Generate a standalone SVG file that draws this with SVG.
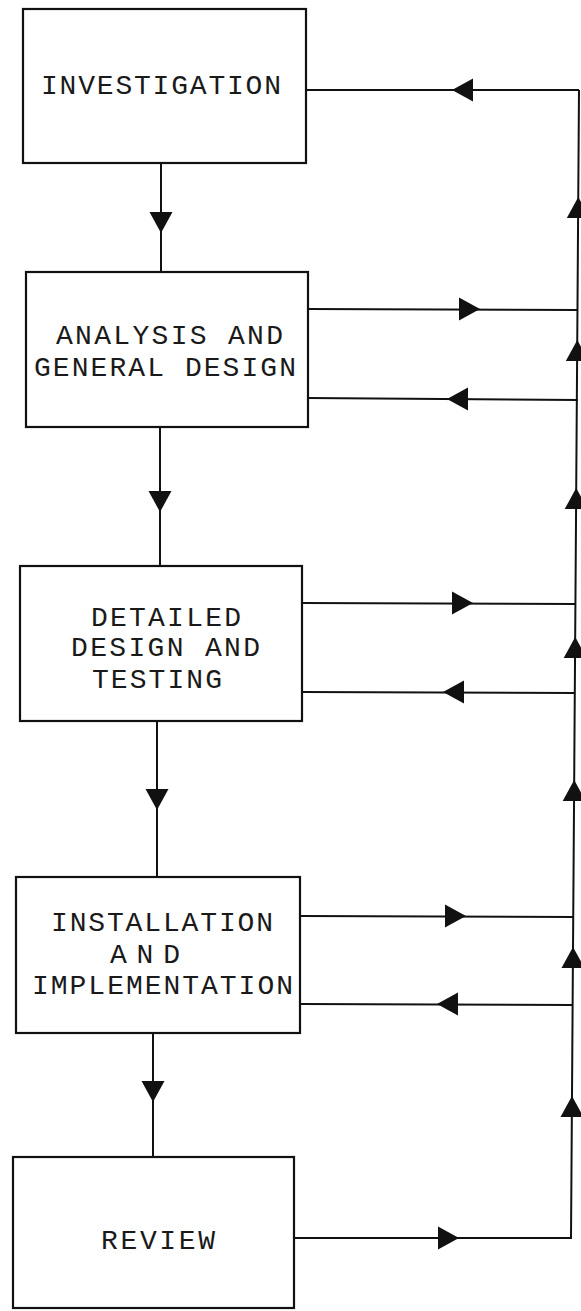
<svg xmlns="http://www.w3.org/2000/svg" xmlns:xlink="http://www.w3.org/1999/xlink" width="581" height="1311" viewBox="0 0 581 1311">
<style>
.box{fill:none;stroke:#111;stroke-width:2.2}
.ln{fill:none;stroke:#111;stroke-width:2}
.lbl{font-family:"Liberation Mono","Courier New",monospace;font-size:28px;fill:#1a1a1a}
.ah{fill:#111}
</style>
<defs>
<path id="ah" d="M0,0 L-21,-11.5 L-21,11.5 Z"/>
</defs>
<rect width="581" height="1311" fill="#fff"/>

<g id="n-investigation">
<rect class="box" x="23" y="9" width="283" height="154"/>
<text class="lbl" x="41" y="94" textLength="240" lengthAdjust="spacing">INVESTIGATION</text>
</g>
<g id="n-analysis">
<rect class="box" x="26" y="272" width="282" height="155"/>
<text class="lbl" x="56" y="344" textLength="227" lengthAdjust="spacing">ANALYSIS AND</text>
<text class="lbl" x="34" y="376" textLength="262" lengthAdjust="spacing">GENERAL DESIGN</text>
</g>
<g id="n-detailed">
<rect class="box" x="20" y="566" width="282" height="155"/>
<text class="lbl" x="91" y="626" textLength="150" lengthAdjust="spacing">DETAILED</text>
<text class="lbl" x="71" y="656" textLength="189" lengthAdjust="spacing">DESIGN AND</text>
<text class="lbl" x="92" y="688" textLength="130" lengthAdjust="spacing">TESTING</text>
</g>
<g id="n-installation">
<rect class="box" x="16" y="877" width="284" height="156"/>
<text class="lbl" x="51" y="931" textLength="222" lengthAdjust="spacing">INSTALLATION</text>
<text class="lbl" x="110" y="963" textLength="70" lengthAdjust="spacing">AND</text>
<text class="lbl" x="32" y="994" textLength="261" lengthAdjust="spacing">IMPLEMENTATION</text>
</g>
<g id="n-review">
<rect class="box" x="13" y="1157" width="281" height="151"/>
<text class="lbl" x="101" y="1249" textLength="114" lengthAdjust="spacing">REVIEW</text>
</g>

<g id="connectors">
<line class="ln" x1="161" y1="163" x2="161" y2="272"/>
<use href="#ah" class="ah" transform="translate(161,233) rotate(90)"/>
<line class="ln" x1="160" y1="427" x2="160" y2="566"/>
<use href="#ah" class="ah" transform="translate(160,512) rotate(90)"/>
<line class="ln" x1="157" y1="721" x2="157" y2="877"/>
<use href="#ah" class="ah" transform="translate(157,810) rotate(90)"/>
<line class="ln" x1="153" y1="1033" x2="153" y2="1157"/>
<use href="#ah" class="ah" transform="translate(153,1102) rotate(90)"/>

<line class="ln" x1="306" y1="90" x2="579" y2="90"/>
<use href="#ah" class="ah" transform="translate(452,90) rotate(180)"/>
<line class="ln" x1="308" y1="309" x2="578" y2="310"/>
<use href="#ah" class="ah" transform="translate(480,309)"/>
<line class="ln" x1="308" y1="398" x2="578" y2="400"/>
<use href="#ah" class="ah" transform="translate(447,399) rotate(180)"/>
<line class="ln" x1="302" y1="603" x2="576" y2="604"/>
<use href="#ah" class="ah" transform="translate(473,603)"/>
<line class="ln" x1="302" y1="692" x2="575" y2="693"/>
<use href="#ah" class="ah" transform="translate(443,692) rotate(180)"/>
<line class="ln" x1="300" y1="916" x2="574" y2="917"/>
<use href="#ah" class="ah" transform="translate(466,916)"/>
<line class="ln" x1="300" y1="1004" x2="573" y2="1005"/>
<use href="#ah" class="ah" transform="translate(437,1004) rotate(180)"/>
<polyline class="ln" points="294,1238 571,1238 579,90"/>
<use href="#ah" class="ah" transform="translate(459,1238)"/>

<use href="#ah" class="ah" transform="translate(578.3,197) rotate(-90)"/>
<use href="#ah" class="ah" transform="translate(577.3,340) rotate(-90)"/>
<use href="#ah" class="ah" transform="translate(576.2,488) rotate(-90)"/>
<use href="#ah" class="ah" transform="translate(575.2,637) rotate(-90)"/>
<use href="#ah" class="ah" transform="translate(574.2,780) rotate(-90)"/>
<use href="#ah" class="ah" transform="translate(573,947) rotate(-90)"/>
<use href="#ah" class="ah" transform="translate(572,1096) rotate(-90)"/>
</g>
</svg>
